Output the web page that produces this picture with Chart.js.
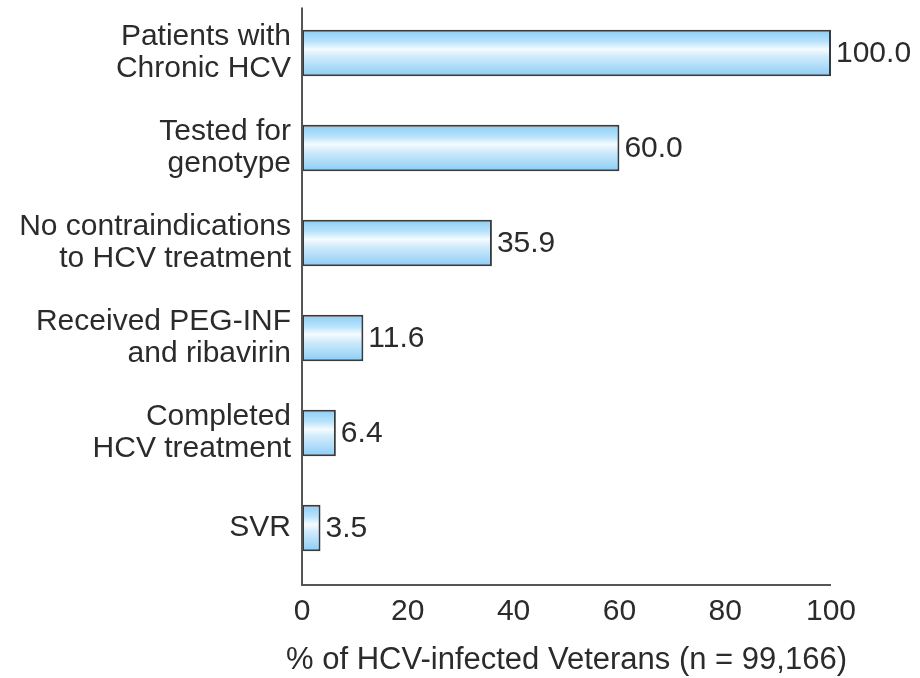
<!DOCTYPE html>
<html>
<head>
<meta charset="utf-8">
<title>HCV care cascade</title>
<script src="https://cdn.jsdelivr.net/npm/chart.js@4/dist/chart.umd.min.js"></script>
<style>
  html, body { margin: 0; padding: 0; background: #fff; }
  #wrap { width: 920px; height: 678px; }
</style>
</head>
<body>
<div id="wrap"><canvas id="cascadeChart" width="920" height="678"></canvas></div>
<script>
// data
const categories = [
  ["Patients with", "Chronic HCV"],
  ["Tested for", "genotype"],
  ["No contraindications", "to HCV treatment"],
  ["Received PEG-INF", "and ribavirin"],
  ["Completed", "HCV treatment"],
  ["SVR"]
];
const percentValues = [100.0, 60.0, 35.9, 11.6, 6.4, 3.5];
const xTickValues = [0, 20, 40, 60, 80, 100];
const xTitle = "% of HCV-infected Veterans (n = 99,166)";

const FONT = "'Liberation Sans', Arial, sans-serif";
const TEXT = "#2b2b2b";
const AXIS = "#555";

// light blue bar with a pale highlight band
function barFill(ctx) {
  const chart = ctx.chart;
  const yScale = chart.scales.y;
  if (!yScale || ctx.dataIndex === undefined) return "#b8e2fa";
  const mid = yScale.getPixelForValue(ctx.dataIndex);
  if (!isFinite(mid)) return "#b8e2fa";
  const half = 23;
  const g = chart.ctx.createLinearGradient(0, mid - half, 0, mid + half);
  g.addColorStop(0, "#8ccdf4");
  g.addColorStop(0.25, "#b9e2fa");
  g.addColorStop(0.42, "#f5fbff");
  g.addColorStop(0.58, "#cfebfc");
  g.addColorStop(1, "#8dcdf5");
  return g;
}

// axis lines drawn a little below the last category, plus the x title
const axisLines = {
  id: "axisLines",
  afterDraw(chart) {
    const { ctx, chartArea } = chart;
    const base = chartArea.bottom + 9.5;
    ctx.save();
    ctx.strokeStyle = AXIS;
    ctx.lineWidth = 2;
    ctx.beginPath();
    ctx.moveTo(chartArea.left, chartArea.top + 2);
    ctx.lineTo(chartArea.left, base);
    ctx.lineTo(chartArea.right, base);
    ctx.stroke();

    ctx.font = "31px " + FONT;
    ctx.fillStyle = TEXT;
    ctx.textAlign = "center";
    ctx.textBaseline = "middle";
    ctx.fillText(xTitle, (chartArea.left + chartArea.right) / 2, base + 75);
    ctx.restore();
  }
};

// value labels at the end of each bar
const valueLabels = {
  id: "valueLabels",
  afterDatasetsDraw(chart) {
    const { ctx } = chart;
    const meta = chart.getDatasetMeta(0);
    ctx.save();
    ctx.font = "30px " + FONT;
    ctx.fillStyle = TEXT;
    ctx.textAlign = "left";
    ctx.textBaseline = "middle";
    meta.data.forEach((bar, i) => {
      ctx.fillText(percentValues[i].toFixed(1), bar.x + 5, bar.y + 1);
    });
    ctx.restore();
  }
};

document.addEventListener("DOMContentLoaded", () => {
  const ctx = document.getElementById("cascadeChart").getContext("2d");
  new Chart(ctx, {
    type: "bar",
    data: {
      labels: categories,
      datasets: [{
        data: percentValues,
        backgroundColor: barFill,
        borderColor: "#3a3a3a",
        borderWidth: 2,
        borderSkipped: false,
        barPercentage: 0.49,
        categoryPercentage: 1
      }]
    },
    options: {
      indexAxis: "y",
      responsive: false,
      animation: false,
      layout: { padding: { top: 5.5, right: 89, left: 0, bottom: 0 } },
      plugins: {
        legend: { display: false },
        tooltip: { enabled: false }
      },
      scales: {
        x: {
          type: "linear",
          min: 0,
          max: 100,
          afterBuildTicks: (scale) => {
            scale.ticks = xTickValues.map(v => ({ value: v }));
          },
          afterFit: (scale) => { scale.height = 102.5; },
          grid: { display: false, drawTicks: false },
          border: { display: false },
          ticks: {
            color: TEXT,
            padding: 18,
            font: { family: FONT, size: 30 },
            maxRotation: 0
          }
        },
        y: {
          afterFit: (scale) => {
            scale.width = 302;
            scale.paddingTop = 0;
            scale.paddingBottom = 0;
          },
          grid: { display: false, drawTicks: false },
          border: { display: false },
          ticks: {
            color: TEXT,
            padding: 11,
            font: { family: FONT, size: 30, lineHeight: 1.07 }
          }
        }
      }
    },
    plugins: [axisLines, valueLabels]
  });
});
</script>
</body>
</html>
